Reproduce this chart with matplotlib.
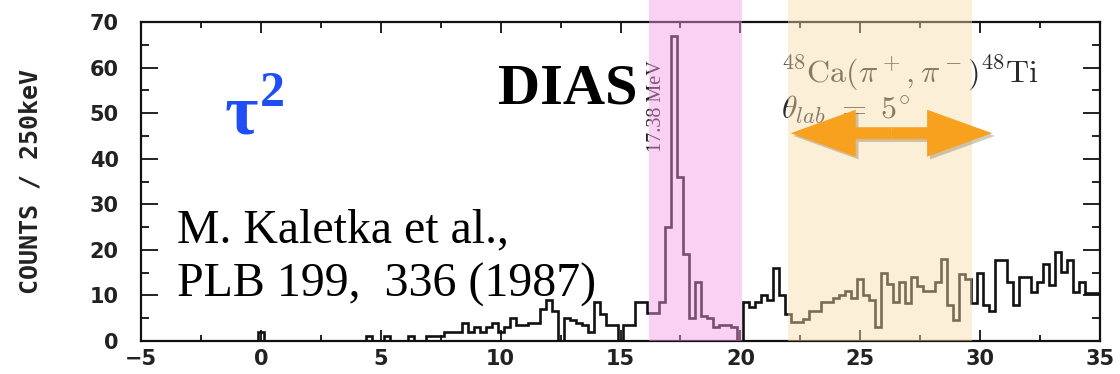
import numpy as np
import matplotlib
matplotlib.use("Agg")
import matplotlib.pyplot as plt
from matplotlib.patches import Rectangle, FancyArrowPatch, ArrowStyle
from matplotlib.transforms import blended_transform_factory
import matplotlib.patheffects as pe

# ---------------- data ----------------
bin_width = 0.25          # MeV  (COUNTS / 250 keV)
first_center = -5.0       # centre of first bin
counts = [
    0, 0, 0, 0,            # -5
    0, 0, 0, 0,            # -4
    0, 0, 0, 0,            # -3
    0, 0, 0, 0,            # -2
    0, 0, 0, 0,            # -1
    2, 0, 0, 0,            # 0
    0, 0, 0, 0,            # 1
    0, 0, 0, 0,            # 2
    0, 0, 0, 0,            # 3
    0, 0, 1, 0,            # 4
    0, 1, 0, 0,            # 5
    0, 1, 0, 0,            # 6
    1, 1, 1, 2,            # 7
    2, 2, 4, 2,            # 8
    3, 2, 3, 4,            # 9
    2, 3, 5, 3.5,          # 10
    3.5, 4, 4, 7,          # 11
    9, 6.5, 0, 5,          # 12
    4.5, 4, 3.5, 2,        # 13
    8.5, 6, 3.6, 3.6,      # 14
    0, 3.6, 3.6, 8.6,      # 15
    8.6, 6.2, 6.2, 8.5,    # 16
    25, 67, 36, 19,        # 17
    5, 13, 5.5, 5,         # 18
    3, 3.5, 3.5, 3,        # 19
    0, 8.5, 7.5, 8.5,      # 20
    10, 9, 16, 10,         # 21
    6, 4.2, 4.2, 4.8,      # 22
    6.5, 6.5, 8.5, 8.5,    # 23
    9.5, 10, 11, 9.5,      # 24
    13.5, 10, 9, 3,        # 25
    15, 12.5, 8.5, 13,     # 26
    8.3, 14, 12, 11,       # 27
    11, 13, 18, 8,         # 28
    4.6, 14.8, 13.5, 8.3,  # 29
    15, 8, 6.5, 17.8,      # 30
    17.8, 12.9, 8, 14,     # 31
    14, 10.8, 13, 17,      # 32
    12.3, 19.6, 15.2, 17.8,  # 33
    10.8, 13, 10.5, 10.5,  # 34
    10.5,                  # 35
]
x_ticks = [-5, 0, 5, 10, 15, 20, 25, 30, 35]
y_ticks = [0, 10, 20, 30, 40, 50, 60, 70]
dias_band = (16.2, 20.08)
tau_band = (22.0, 29.67)
arrow_span = (22.1, 30.5)
arrow_level = 45.6

# ---------------- figure ----------------
W, H = 1120, 374
fig = plt.figure(figsize=(W / 100, H / 100), dpi=100)
ax = fig.add_axes([141 / W, 33 / H, 959 / W, 319 / H])

edges = first_center - bin_width / 2 + bin_width * np.arange(len(counts) + 1)
ax.stairs(counts, edges, color="#111111", lw=1.9, zorder=2)

ax.set_xlim(-5, 35)
ax.set_ylim(0, 70)
ax.set_xticks(x_ticks)
ax.set_yticks(y_ticks)
ax.set_xticks(np.arange(-5, 35.1, 2.5), minor=True)
ax.set_yticks(np.arange(0, 70.1, 5), minor=True)
for s in ax.spines.values():
    s.set_linewidth(1.6)
    s.set_color("#111111")
ax.tick_params(axis="both", which="both", direction="in", top=True, right=True,
               width=1.3, color="#111111")
ax.tick_params(axis="x", which="major", length=8, pad=6)
ax.tick_params(axis="x", which="minor", length=4)
ax.tick_params(axis="y", which="major", length=12, pad=16)
ax.tick_params(axis="y", which="minor", length=6)
for lab in ax.get_xticklabels() + ax.get_yticklabels():
    lab.set_fontfamily("DejaVu Sans")
    lab.set_fontweight("bold")
    lab.set_fontsize(15)
    lab.set_color("#222222")

ax.set_ylabel("COUNTS / 250keV", family="DejaVu Sans Mono", fontweight="bold",
              fontsize=18, color="#222222")
ax.yaxis.set_label_coords(-0.103, 0.5)

# ---------------- highlighted bands ----------------
bt = blended_transform_factory(ax.transData, ax.transAxes)
top = H / 319 - 33 / 319
ax.add_patch(Rectangle((dias_band[0], 0), dias_band[1] - dias_band[0], top,
                       transform=bt, clip_on=False, facecolor=(0.956, 0.60, 0.889),
                       alpha=0.45, lw=0, zorder=3))
ax.add_patch(Rectangle((tau_band[0], 0), tau_band[1] - tau_band[0], top,
                       transform=bt, clip_on=False, facecolor=(0.978, 0.867, 0.667),
                       alpha=0.45, lw=0, zorder=3))

# ---------------- annotations ----------------
ax.text(16.5, 61.6, "17.38 MeV", rotation=90, ha="center", va="top",
        family="Liberation Serif", fontsize=14.5, color="#222222", zorder=1.5)
ax.text(9.875, 52.2, "DIAS", ha="left", va="baseline", family="Liberation Serif",
        fontweight="bold", fontsize=42, color="black", zorder=4)
ax.text(-1.5, 45.6, "τ", ha="left", va="baseline", family="Liberation Serif",
        fontweight="bold", fontsize=52, color="#1f4ef5", zorder=4)
ax.text(-0.05, 51.5, "2", ha="left", va="baseline", family="Liberation Serif",
        fontweight="bold", fontsize=36, color="#1f4ef5", zorder=4)
ax.text(-3.5, 21.7, "M. Kaletka et al.,", ha="left", va="baseline",
        family="Liberation Serif", fontsize=34.5, color="black", zorder=4)
ax.text(-3.5, 9.65, "PLB 199,  336 (1987)", ha="left", va="baseline",
        family="Liberation Serif", fontsize=34.5, color="black", zorder=4)
ax.text(21.7, 56.8, r"$^{48}\mathrm{Ca}(\pi^+,\pi^-)^{48}\mathrm{Ti}$", ha="left",
        va="baseline", fontsize=23, color="#2a2a2a", math_fontfamily="cm", zorder=1.5)
ax.text(21.7, 48.7, r"$\theta_{lab}\ =\ 5^{\circ}$", ha="left",
        va="baseline", fontsize=23, color="#2a2a2a", math_fontfamily="cm", zorder=1.5)

# double-headed orange arrow (two simple arrows from the centre)
mid = (arrow_span[0] + arrow_span[1]) / 2
style = ArrowStyle.Simple(head_length=46.8, head_width=33.8, tail_width=8.6)
for end in arrow_span:
    a = FancyArrowPatch((mid, arrow_level), (end, arrow_level), arrowstyle=style,
                        mutation_scale=1, shrinkA=0, shrinkB=0, color="#f8a11e",
                        lw=0, zorder=6, clip_on=False)
    a.set_path_effects([pe.SimplePatchShadow(offset=(2, -2), alpha=0.25), pe.Normal()])
    ax.add_patch(a)

fig.savefig("out.png", dpi=100)
